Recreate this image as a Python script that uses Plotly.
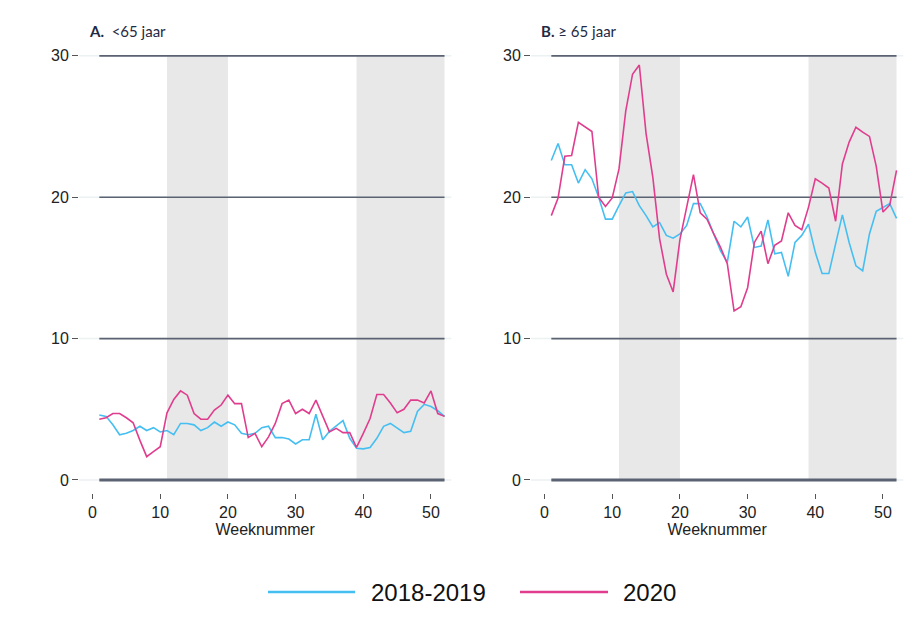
import plotly.graph_objects as go

weeks = list(range(1, 53))

a_2018_2019 = [4.6, 4.5, 3.9, 3.2, 3.3, 3.5, 3.8, 3.5, 3.7, 3.4, 3.5, 3.2, 4.0, 4.0, 3.9, 3.5,
               3.7, 4.1, 3.8, 4.1, 3.9, 3.3, 3.2, 3.3, 3.7, 3.8, 3.0, 3.0, 2.9, 2.55, 2.85, 2.85,
               4.65, 2.85, 3.45, 3.8, 4.2, 2.95, 2.25, 2.2, 2.3, 2.95, 3.8, 4.0, 3.7, 3.35,
               3.45, 4.85, 5.35, 5.2, 4.9, 4.5]
a_2020 = [4.3, 4.4, 4.7, 4.7, 4.4, 4.05, 2.8, 1.65, 2.0, 2.35, 4.75, 5.7, 6.3, 6.0, 4.7, 4.3,
          4.3, 4.95, 5.3, 6.0, 5.4, 5.4, 3.0, 3.3, 2.35, 3.05, 4.0, 5.4, 5.65, 4.7, 5.0, 4.7,
          5.65, 4.5, 3.4, 3.65, 3.35, 3.35, 2.3, 3.3, 4.35, 6.05, 6.05, 5.45, 4.75, 5.0,
          5.65, 5.65, 5.45, 6.3, 4.7, 4.5]

b_2018_2019 = [22.6, 23.8, 22.3, 22.3, 21.0, 21.95, 21.3, 20.0, 18.45, 18.45, 19.4, 20.3,
               20.4, 19.4, 18.7, 17.9, 18.2, 17.3, 17.1, 17.4, 18.0, 19.55, 19.55, 18.6,
               17.4, 16.2, 15.4, 18.3, 17.9, 18.6, 16.45, 16.55, 18.4, 16.0, 16.1, 14.4,
               16.8, 17.3, 18.1, 16.1, 14.6, 14.6, 16.7, 18.75, 16.8, 15.15, 14.8, 17.4,
               19.0, 19.25, 19.55, 18.5]
b_2020 = [18.7, 19.95, 22.9, 22.95, 25.3, 25.0, 24.65, 20.0, 19.35, 19.95, 22.0, 26.1,
          28.7, 29.35, 24.5, 21.4, 17.05, 14.55, 13.3, 17.0, 19.2, 21.6, 18.9, 18.45,
          17.4, 16.45, 15.3, 11.95, 12.25, 13.6, 16.8, 17.6, 15.3, 16.6, 16.9, 18.9,
          18.0, 17.7, 19.3, 21.3, 21.0, 20.65, 18.3, 22.35, 23.9, 24.95, 24.6, 24.3,
          22.2, 18.95, 19.45, 21.9]

series_names = ["2018-2019", "2020"]
series_colors = ["#45BFF2", "#E03D8E"]
y_ticks = [0, 10, 20, 30]
x_ticks = [0, 10, 20, 30, 40, 50]
shaded_periods = [(11, 20), (39, 52)]
panel_titles = ["<b>A.</b>  &lt;65 jaar", "<b>B.</b> ≥ 65 jaar"]

W, H = 924, 630
OFF = 8  # page body margin offset compensation
fig = go.Figure()

panels = [("x", "y", a_2018_2019, a_2020), ("x2", "y2", b_2018_2019, b_2020)]
for xa, ya, s1, s2 in panels:
    for name, vals, col in zip(series_names, [s1, s2], series_colors):
        fig.add_trace(go.Scatter(x=weeks, y=vals, mode="lines", name=name,
                                 line=dict(color=col, width=1.6),
                                 xaxis=xa, yaxis=ya, showlegend=False))

shapes = []
for xa, ya in [("x", "y"), ("x2", "y2")]:
    for t in y_ticks:
        shapes.append(dict(type="line", xref=xa + " domain", yref=ya, x0=0, x1=1, y0=t, y1=t,
                           line=dict(color="#ECF1F1", width=1.5), layer="below"))
    for (s, e) in shaded_periods:
        shapes.append(dict(type="rect", xref=xa, yref=ya, x0=s, x1=e, y0=y_ticks[0], y1=y_ticks[-1],
                           fillcolor="#E8E8E8", line=dict(width=0), layer="below"))
    for t in y_ticks:
        shapes.append(dict(type="line", xref=xa, yref=ya, x0=weeks[0], x1=weeks[-1], y0=t, y1=t,
                           line=dict(color="#5B6372", width=3 if t == 0 else 1.6), layer="below"))


def px(x):
    return (x - OFF) / W


def py(y):
    return 1 - (y - OFF) / H


# manual legend (long line samples as in the reference)
legend_lines = [(268, 355), (520, 608)]
legend_text_x = [369, 621]
annotations = []
for (x0, x1), tx, name, col in zip(legend_lines, legend_text_x, series_names, series_colors):
    shapes.append(dict(type="line", xref="paper", yref="paper", x0=px(x0), x1=px(x1),
                       y0=py(592), y1=py(592), line=dict(color=col, width=2.5)))
    annotations.append(dict(xref="paper", yref="paper", x=px(tx), y=py(592), text=name,
                            showarrow=False, xanchor="left", yanchor="middle",
                            font=dict(family="Liberation Sans, Arial", size=24, color="#111")))

for tx, title in zip([87, 539], panel_titles):
    annotations.append(dict(xref="paper", yref="paper", x=px(tx), y=py(31), text=title,
                            showarrow=False, xanchor="left", yanchor="middle",
                            font=dict(family="Lato, Open Sans", size=15, color="#1F2A44")))

ydom = [py(493), py(53)]
tick_font = dict(family="Liberation Sans, Arial", size=16, color="#222")
xaxis_common = dict(range=[-2, 53], tickvals=x_ticks, ticks="outside", ticklen=5, tickwidth=1,
                    tickcolor="#555", showgrid=False, zeroline=False, showline=False,
                    tickfont=tick_font, automargin=False,
                    title=dict(text="Weeknummer", font=tick_font, standoff=0))
yaxis_common = dict(range=[-0.92, 30.2], tickvals=y_ticks, ticks="outside", ticklen=6, tickwidth=1,
                    tickcolor="#555", showgrid=False, automargin=False,
                    zeroline=False, showline=False, tickfont=tick_font, domain=ydom)

fig.update_layout(
    width=W, height=H,
    margin=dict(l=0, r=0, t=0, b=0),
    paper_bgcolor="white", plot_bgcolor="white",
    showlegend=False,
    xaxis=dict(domain=[px(79), px(451.3)], anchor="y", **xaxis_common),
    xaxis2=dict(domain=[px(531), px(903.3)], anchor="y2", **xaxis_common),
    yaxis=dict(anchor="x", **yaxis_common),
    yaxis2=dict(anchor="x2", **yaxis_common),
    shapes=shapes,
    annotations=annotations,
)

fig.write_html("out.html")
